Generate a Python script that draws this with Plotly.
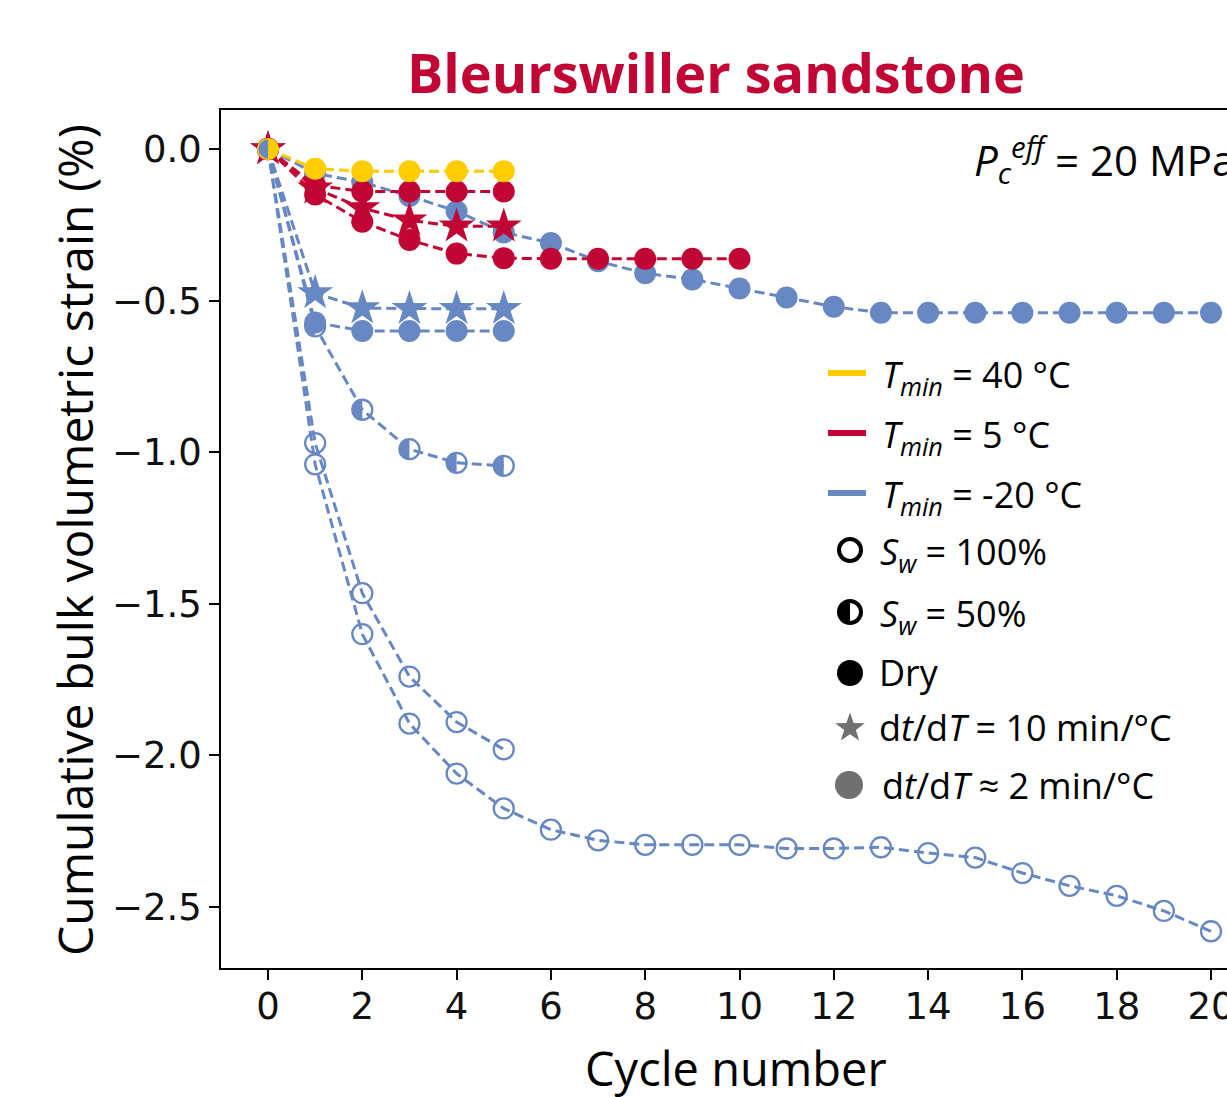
import numpy as np
import plotly.graph_objects as go

# ---------------- data ----------------
cycles_5 = [0, 1, 2, 3, 4, 5]
cycles_10 = list(range(0, 11))
cycles_20 = list(range(0, 21))

# T_min = 40 °C
t40_dry_2min = [0, -0.065, -0.073, -0.073, -0.073, -0.073]
# T_min = 5 °C
t5_dry_2min_5 = [0, -0.12, -0.14, -0.14, -0.14, -0.14]
t5_dry_10min_5 = [0, -0.13, -0.195, -0.235, -0.255, -0.255]
t5_dry_2min_10 = [0, -0.15, -0.24, -0.30, -0.345, -0.36, -0.362, -0.362, -0.362, -0.362, -0.362]
# T_min = -20 °C
tm20_dry_2min_20 = [0, -0.08, -0.11, -0.155, -0.205, -0.275, -0.31, -0.37, -0.41, -0.43, -0.46,
                    -0.49, -0.52, -0.54, -0.54, -0.54, -0.54, -0.54, -0.54, -0.54, -0.54]
tm20_dry_10min_5 = [0, -0.475, -0.525, -0.527, -0.527, -0.527]
tm20_dry_2min_5 = [0, -0.572, -0.60, -0.60, -0.60, -0.60]
tm20_sw50_2min_5 = [0, -0.585, -0.86, -0.99, -1.035, -1.045]
tm20_sw100_2min_5 = [0, -0.97, -1.465, -1.74, -1.89, -1.98]
tm20_sw100_2min_20 = [0, -1.04, -1.60, -1.895, -2.06, -2.175, -2.245, -2.28, -2.295, -2.295, -2.295,
                      -2.307, -2.307, -2.303, -2.322, -2.337, -2.388, -2.43, -2.463, -2.513, -2.58]

x_tickvals = [0, 2, 4, 6, 8, 10, 12, 14, 16, 18, 20]
x_ticktext = ["0", "2", "4", "6", "8", "10", "12", "14", "16", "18", "20"]
y_tickvals = [0.0, -0.5, -1.0, -1.5, -2.0, -2.5]
y_ticktext = ["0.0", "\u22120.5", "\u22121.0", "\u22121.5", "\u22122.0", "\u22122.5"]

title_text = "Bleurswiller sandstone"
x_title = "Cycle number"
y_title = "Cumulative bulk volumetric strain (%)"
pc_text = "<i>P</i><sub><i>c</i></sub><sup><i>eff</i></sup> = 20 MPa"
legend_labels = [
    "<i>T</i><sub><i>min</i></sub> = 40 °C",
    "<i>T</i><sub><i>min</i></sub> = 5 °C",
    "<i>T</i><sub><i>min</i></sub> = -20 °C",
    "<i>S</i><sub><i>w</i></sub> = 100%",
    "<i>S</i><sub><i>w</i></sub> = 50%",
    "Dry",
    "d<i>t</i>/d<i>T</i> = 10 min/°C",
    "d<i>t</i>/d<i>T</i> ≈ 2 min/°C",
]

# ---------------- style ----------------
YELLOW = "#FFCC00"
RED = "#C10535"
BLUE = "#6888C4"
GRAY = "#707070"
W, H = 1227, 1097
ML, MR, MT, MB = 221, 0, 110, 129
PW, PH = W - ML - MR, H - MT - MB
DASH = "10px,5px"


def px_x(px):
    return (px - ML) / PW


def px_y(py):
    return (H - MB - py) / PH


fig = go.Figure()


def add_series(x, y, color, kind, size=None):
    if kind == "open" or kind == "half":
        marker = dict(symbol="circle-open", size=size or 20, color=color, line=dict(width=2.3, color=color))
    elif kind == "star":
        marker = dict(symbol="star", size=size or 27, color=color, line=dict(width=0))
    else:
        marker = dict(symbol="circle", size=size or 22, color=color, line=dict(width=0))
    fig.add_trace(go.Scatter(x=x, y=y, mode="lines+markers",
                             line=dict(color=color, width=3, dash=DASH),
                             marker=marker, showlegend=False, hoverinfo="skip"))


add_series(cycles_20, tm20_sw100_2min_20, BLUE, "open")
add_series(cycles_5, tm20_sw100_2min_5, BLUE, "open")
add_series(cycles_5, tm20_sw50_2min_5, BLUE, "half")
add_series(cycles_5, tm20_dry_2min_5, BLUE, "dry")
add_series(cycles_5, tm20_dry_10min_5, BLUE, "star")
add_series(cycles_20, tm20_dry_2min_20, BLUE, "dry")
add_series(cycles_10, t5_dry_2min_10, RED, "dry")
add_series(cycles_5, t5_dry_10min_5, RED, "star")
add_series(cycles_5, t5_dry_2min_5, RED, "dry")
add_series(cycles_5, t40_dry_2min, YELLOW, "dry")

shapes = []


def half_path(r, n=24):
    th = np.linspace(np.pi / 2, 3 * np.pi / 2, n)
    pts = [(r * np.cos(t), r * np.sin(t)) for t in th]
    return "M" + " L".join(f"{a:.2f},{b:.2f}" for a, b in pts) + " Z"


HALF_DATA = half_path(9.5)
for xv, yv in zip(cycles_5, tm20_sw50_2min_5):
    shapes.append(dict(type="path", xref="x", yref="y", xsizemode="pixel", ysizemode="pixel",
                       xanchor=xv, yanchor=yv, path=HALF_DATA,
                       fillcolor=BLUE, line=dict(width=0), layer="above"))

# ---------------- legend (custom) ----------------
leg_y = [373, 433, 493, 550, 612, 673, 728, 785]
leg_text_x = [880, 880, 880, 878, 878, 877, 877, 880]
line_colors = [YELLOW, RED, BLUE]
for i, c in enumerate(line_colors):
    shapes.append(dict(type="line", xref="paper", yref="paper",
                       x0=px_x(828), x1=px_x(866), y0=px_y(leg_y[i]), y1=px_y(leg_y[i]),
                       line=dict(color=c, width=6)))


def circ(cx, cy, r, fill, lc, lw):
    return dict(type="circle", xref="paper", yref="paper", xsizemode="pixel", ysizemode="pixel",
                xanchor=px_x(cx), yanchor=px_y(cy), x0=-r, x1=r, y0=-r, y1=r,
                fillcolor=fill, line=dict(color=lc, width=lw))


shapes.append(circ(850, leg_y[3], 11, "white", "black", 4))
shapes.append(circ(850, leg_y[4], 11, "white", "black", 4))
shapes.append(dict(type="path", xref="paper", yref="paper", xsizemode="pixel", ysizemode="pixel",
                   xanchor=px_x(850), yanchor=px_y(leg_y[4]), path=half_path(12),
                   fillcolor="black", line=dict(width=0)))
shapes.append(circ(850, leg_y[5], 13, "black", "black", 0))
shapes.append(circ(849, leg_y[7], 14, GRAY, GRAY, 0))
# star glyph for legend
ang = np.pi / 2 + np.arange(10) * np.pi / 5
rad = np.where(np.arange(10) % 2 == 0, 15.5, 6.2)
star_pts = [(r * np.cos(a), r * np.sin(a)) for r, a in zip(rad, ang)]
star_path = "M" + " L".join(f"{a:.2f},{b:.2f}" for a, b in star_pts) + " Z"
shapes.append(dict(type="path", xref="paper", yref="paper", xsizemode="pixel", ysizemode="pixel",
                   xanchor=px_x(850), yanchor=px_y(leg_y[6]), path=star_path,
                   fillcolor=GRAY, line=dict(width=0)))

annotations = []
LEG_FONT = dict(family="Open Sans", size=36, color="black")
for i, lab in enumerate(legend_labels):
    has_sub = "<sub>" in lab
    annotations.append(dict(xref="paper", yref="paper", x=px_x(leg_text_x[i]),
                            y=px_y(leg_y[i] + (3 if has_sub else 0)),
                            xanchor="left", yanchor="middle", text=lab, showarrow=False,
                            font=LEG_FONT))

annotations.append(dict(xref="paper", yref="paper", x=px_x(972), y=px_y(160), xanchor="left",
                        yanchor="middle", text=pc_text, showarrow=False,
                        font=dict(family="Open Sans", size=42, color="black")))
annotations.append(dict(xref="paper", yref="paper", x=px_x(736), y=px_y(1068), xanchor="center",
                        yanchor="middle", text=x_title, showarrow=False,
                        font=dict(family="Open Sans", size=47, color="black")))
annotations.append(dict(xref="paper", yref="paper", x=px_x(74), y=px_y(540), xanchor="center",
                        yanchor="middle", text=y_title, showarrow=False, textangle=-90,
                        font=dict(family="Open Sans", size=48, color="black")))

fig.update_layout(
    width=W, height=H,
    margin=dict(l=ML, r=MR, t=MT, b=MB, pad=0, autoexpand=False),
    paper_bgcolor="white", plot_bgcolor="white",
    title=dict(text="<b>" + title_text + "</b>", x=716 / W, xref="container", xanchor="center",
               y=1 - 74 / H, yref="container", yanchor="middle", automargin=False,
               font=dict(family="Open Sans", size=54, color=RED)),
    shapes=shapes, annotations=annotations,
    showlegend=False,
)
slope_x = (1211 - 268) / 20.0
slope_y = (907 - 149) / 2.5
fig.update_xaxes(range=[(ML - 268) / slope_x, (W - MR - 268) / slope_x], automargin=False,
                 tickvals=x_tickvals, ticktext=x_ticktext, ticklabeloverflow="allow",
                 ticklabelstandoff=-5,
                 showgrid=False, zeroline=False, showline=True, linecolor="black", linewidth=1.6,
                 mirror=True, ticks="outside", ticklen=10, tickwidth=1.5, tickcolor="black",
                 tickfont=dict(family="DejaVu Sans", size=37, color="#111111"))
fig.update_yaxes(range=[-(H - MB - 149) / slope_y, (149 - MT) / slope_y], automargin=False,
                 tickvals=y_tickvals, ticktext=y_ticktext,
                 showgrid=False, zeroline=False, showline=True, linecolor="black", linewidth=1.6,
                 ticks="outside", ticklen=10, tickwidth=1.5, tickcolor="black",
                 tickfont=dict(family="DejaVu Sans", size=37, color="#111111"))

fig.write_html("out.html", config={"displayModeBar": False},
               post_script="document.body.style.margin='0';document.body.style.overflow='hidden';")
